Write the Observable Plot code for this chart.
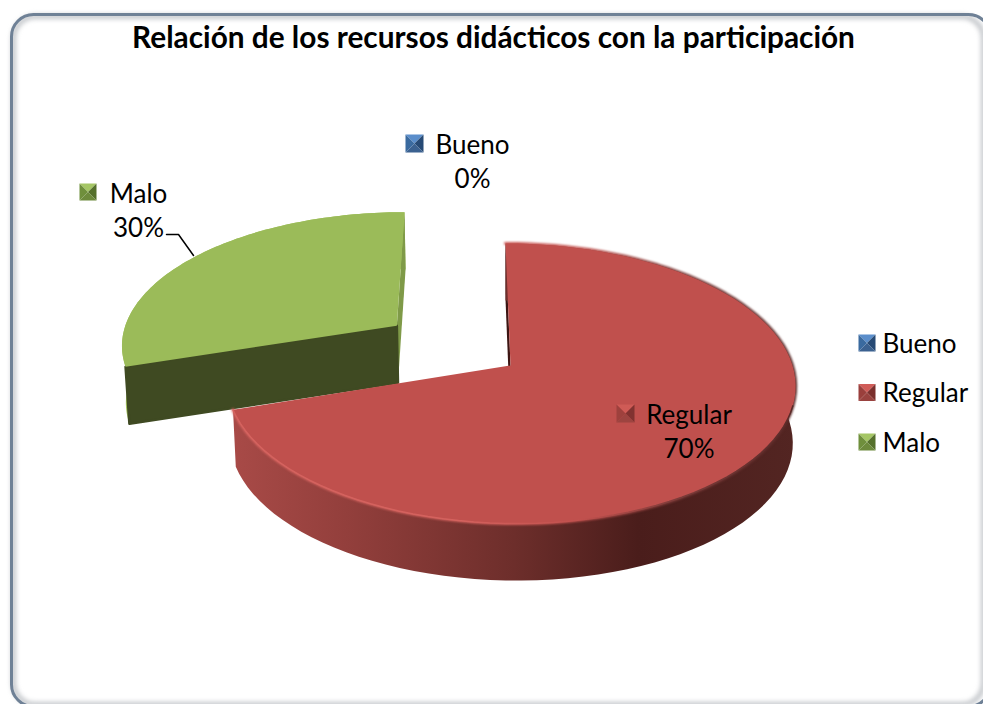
<!DOCTYPE html>
<html><head><meta charset="utf-8">
<style>html,body{margin:0;padding:0;background:#fff}svg{display:block}</style>
<script src="https://cdn.jsdelivr.net/npm/d3@7"></script>
<script src="https://cdn.jsdelivr.net/npm/@observablehq/plot@0.6"></script>
</head><body>
<script>
const titleText = "Relación de los recursos didácticos con la participación";
const categories = ["Bueno", "Regular", "Malo"];
const shares = [0, 70, 30];
const explode = [0, 0, 0.51];
const topColors = ["#4f81bd", "#c0504d", "#9bbb59"];

// swatch facets: top, right, bottom, left
const swatchShades = {
  Bueno: ["#5b8ecb", "#274a75", "#3b6190", "#3a6a9f"],
  Regular: ["#d05c58", "#7a2f2d", "#99423f", "#9a3f3c"],
  Malo: ["#a5c665", "#55702c", "#6d8a3c", "#6f8f3c"]
};

const W = 983, H = 704;
const apex = {x: 510, y: 365};
const A = 282, B = 137.7, k = 0.1286, shear = 0.041, depth = 57, shrink = 0.99;

function project(u, v) {
  const w = 1 + k * v;
  const Y = -B * v / w;
  return {x: apex.x + A * u / w + shear * Y, y: apex.y + Y};
}
const lower = p => ({x: apex.x + (p.x - apex.x) * shrink, y: p.y + depth});

const total = d3.sum(shares);
let cum = 0;
const slices = categories.map((name, i) => {
  const a0 = cum / total * 2 * Math.PI;
  cum += shares[i];
  const a1 = cum / total * 2 * Math.PI;
  const mid = (a0 + a1) / 2;
  const eu = explode[i] * Math.sin(mid), ev = explode[i] * Math.cos(mid);
  const n = 90;
  const rim = d3.range(n + 1).map(j => {
    const t = a0 + (a1 - a0) * j / n;
    return project(eu + Math.sin(t), ev + Math.cos(t));
  });
  return {name, share: shares[i], rim, center: project(eu, ev), a0, a1};
});
const regular = slices[1], malo = slices[2];

const poly = (pts, fill, o = {}) => Plot.line(pts, {x: "x", y: "y", fill, stroke: "none", curve: "linear-closed", ...o});
const path = (pts, stroke, strokeWidth, o = {}) => Plot.line(pts, {x: "x", y: "y", stroke, strokeWidth, curve: "linear", ...o});

function swatch(name, x, y, s, opacity = 1) {
  const c = {x: x + s / 2, y: y + s / 2};
  const tl = {x, y}, tr = {x: x + s, y}, br = {x: x + s, y: y + s}, bl = {x, y: y + s};
  const f = swatchShades[name];
  return [[tl, tr, c], [tr, br, c], [br, bl, c], [bl, tl, c]].map((t, i) => poly(t, f[i], {opacity}));
}

const fontFamily = "Lato, 'Liberation Sans', sans-serif";
const labelSize = 26;
const textMark = (txt, x, y, o = {}) => Plot.text([txt], {x: () => x, y: () => y, text: d => d, fontFamily, fontSize: labelSize, fill: "#000", lineAnchor: "middle", ...o});

const malo_front = [malo.center, malo.rim[0], lower(malo.rim[0]), lower(malo.center)];
const malo_back = [malo.center, malo.rim[90], lower(malo.rim[90]), lower(malo.center)];
const rimBand = s => [...s.rim, ...s.rim.slice().reverse().map(lower)];

const chart = Plot.plot({
  width: W, height: H,
  margin: 0,
  x: {domain: [0, W], range: [0, W], axis: null},
  y: {domain: [0, H], range: [0, H], axis: null},
  marks: [
    // card: soft inner shadow, then the crisp edge that runs off the right and bottom of the picture
    Plot.frame({stroke: "#b4b8bd", strokeWidth: 4, rx: 22, insetLeft: 13, insetTop: 16, insetRight: 0, insetBottom: 0, imageFilter: "blur(2.5px)"}),
    Plot.frame({stroke: "#6f8196", strokeWidth: 3, rx: 22, insetLeft: 11, insetTop: 14, insetRight: -7, insetBottom: -2}),
    textMark(titleText, 493, 38, {fontWeight: 700, fontSize: 29.8}),

    // Malo slice
    poly(rimBand(malo), "#a5c45f"),
    poly(malo_back, "#7f9a48"),
    poly(malo_front, "#3f4a22", {stroke: "#3f4a22", strokeWidth: 2.5, strokeLinejoin: "round"}),
    poly([malo.center, ...malo.rim], topColors[2]),

    // Regular slice
    poly([regular.center, regular.rim[0], lower(regular.rim[0]), lower(regular.center)], "#3c1513"),
    poly(rimBand(regular), "url(#wall)"),
    path(regular.rim, "url(#rimline)", 3, {imageFilter: "blur(1px)"}),
    poly([regular.center, ...regular.rim], topColors[1]),
    path(regular.rim.slice(38, 91), "url(#rimline)", 1.5, {imageFilter: "blur(0.6px)"}),

    // leader
    path([{x: 166, y: 234}, {x: 178, y: 234}, {x: 193, y: 255}], "#000", 1.5),

    // Data labels
    ...swatch("Bueno", 405, 134, 18),
    textMark("Bueno", 472, 145),
    textMark(`${shares[0]}%`, 472, 179),
    ...swatch("Malo", 79, 183, 17),
    textMark("Malo", 138, 194),
    textMark(`${shares[2]}%`, 138, 228),
    ...swatch("Regular", 616, 404, 18, 0.9),
    textMark("Regular", 688.5, 415),
    textMark(`${shares[1]}%`, 688.5, 449),

    // Legend
    ...categories.flatMap((c, i) => [
      ...swatch(c, 858, 334 + i * 49.5, 17),
      textMark(c, 882, 344 + i * 49.5, {textAnchor: "start"})
    ])
  ]
});

const ns = "http://www.w3.org/2000/svg";
const defs = document.createElementNS(ns, "defs");
defs.innerHTML = `
<linearGradient id="wall" gradientUnits="userSpaceOnUse" x1="233" x2="795" y1="0" y2="0">
  <stop offset="0" stop-color="#a84a47"/><stop offset="0.2" stop-color="#933f3c"/>
  <stop offset="0.5" stop-color="#6d2e2b"/><stop offset="0.72" stop-color="#4a1d1b"/>
  <stop offset="1" stop-color="#532522"/></linearGradient>
<linearGradient id="rimline" gradientUnits="userSpaceOnUse" x1="233" x2="795" y1="0" y2="0">
  <stop offset="0" stop-color="#d4625e"/><stop offset="0.4" stop-color="#d4625e"/>
  <stop offset="0.62" stop-color="#c0504d"/><stop offset="0.8" stop-color="#7a3a38"/>
  <stop offset="1" stop-color="#5a2a28"/></linearGradient>`;
chart.insertBefore(defs, chart.firstChild);
document.body.appendChild(chart);
</script>
</body></html>
